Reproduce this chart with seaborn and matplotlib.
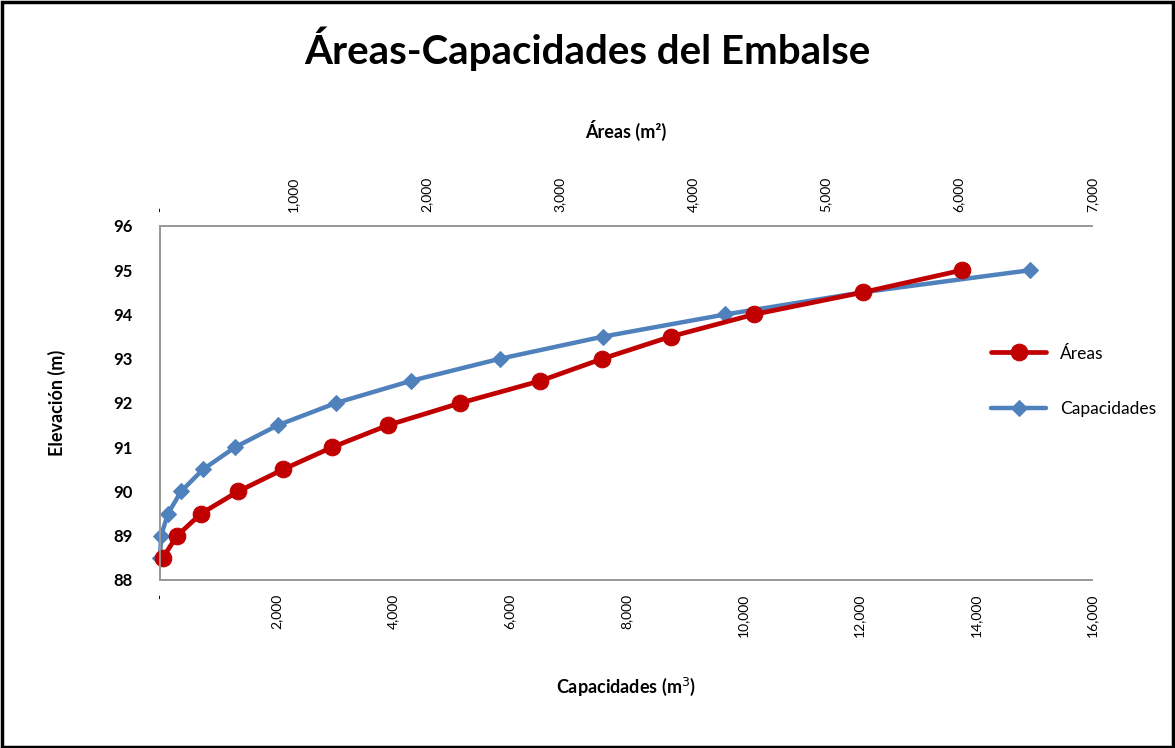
import matplotlib
matplotlib.use("Agg")
import matplotlib.pyplot as plt
import matplotlib.ticker as mticker
import seaborn as sns
from matplotlib.patches import Rectangle

# data
elevacion = [88.5, 89.0, 89.5, 90.0, 90.5, 91.0, 91.5, 92.0, 92.5, 93.0, 93.5, 94.0, 94.5, 95.0]
areas = [20, 128, 308, 586, 925, 1293, 1714, 2256, 2857, 3323, 3835, 4459, 5278, 6023]
capacidades = [0, 17, 137, 360, 738, 1288, 2026, 3021, 4309, 5837, 7605, 9700, 12052, 14936]

sns.set_style("white")
plt.rcParams["font.family"] = ["Lato", "DejaVu Sans"]
plt.rcParams.update({"text.color": "black", "axes.labelcolor": "black",
                     "xtick.color": "black", "ytick.color": "black"})

red = "#C00000"
blue = "#4F81BD"
grey = "#9a9a9a"

fig = plt.figure(figsize=(11.75, 7.48), dpi=100)
ax = fig.add_axes([0.1362, 0.2246, 0.7932, 0.4733])
ax2 = ax.twiny()

# Capacidades on the bottom axis
sns.lineplot(x=capacidades, y=elevacion, sort=False, ax=ax, color=blue, lw=3.2,
             marker="D", markersize=8, markeredgecolor=blue, label="Capacidades",
             legend=False, clip_on=False)
# Areas on the top axis
sns.lineplot(x=areas, y=elevacion, sort=False, ax=ax2, color=red, lw=3.4,
             marker="o", markersize=12, markeredgecolor=red, label="Áreas",
             legend=False, clip_on=False)

ax.set_xlim(0, 16000)
ax2.set_xlim(0, 7000)
ax.set_ylim(88, 96)

def fmt(v, pos):
    return "-" if v == 0 else f"{int(v):,}"

ax.xaxis.set_major_locator(mticker.MultipleLocator(2000))
ax2.xaxis.set_major_locator(mticker.MultipleLocator(1000))
ax.xaxis.set_major_formatter(mticker.FuncFormatter(fmt))
ax2.xaxis.set_major_formatter(mticker.FuncFormatter(fmt))
ax.yaxis.set_major_locator(mticker.MultipleLocator(1))

for a in (ax, ax2):
    for s in a.spines.values():
        s.set_color(grey)
        s.set_linewidth(1.3)
    a.spines["right"].set_visible(False)
    a.tick_params(length=0)
ax.tick_params(axis="x", labelsize=10, rotation=90, pad=10)
ax2.tick_params(axis="x", labelsize=10, rotation=90, pad=10)
ax.tick_params(axis="y", pad=20)
for t in ax.get_yticklabels():
    t.set_fontweight("bold")
    t.set_fontsize(12)

ax.set_xlabel("Capacidades (m$^3$)", fontsize=13, fontweight="bold", labelpad=28)
ax2.set_xlabel("Áreas (m²)", fontsize=13, fontweight="bold", labelpad=28)
ax.set_ylabel("Elevación (m)", fontsize=13, fontweight="bold", labelpad=34)

fig.suptitle("Áreas-Capacidades del Embalse", fontsize=29, fontweight="bold", y=0.965)

h1, l1 = ax2.get_legend_handles_labels()
h2, l2 = ax.get_legend_handles_labels()
fig.legend(h1 + h2, l1 + l2, loc="center left", bbox_to_anchor=(0.83, 0.49),
           frameon=False, fontsize=12.5, labelspacing=2.3, handlelength=3.2)

fig.patches.append(Rectangle((0.002, 0.002), 0.996, 0.995, transform=fig.transFigure,
                             fill=False, edgecolor="black", lw=2.5))

fig.savefig("out.png", dpi=100)
